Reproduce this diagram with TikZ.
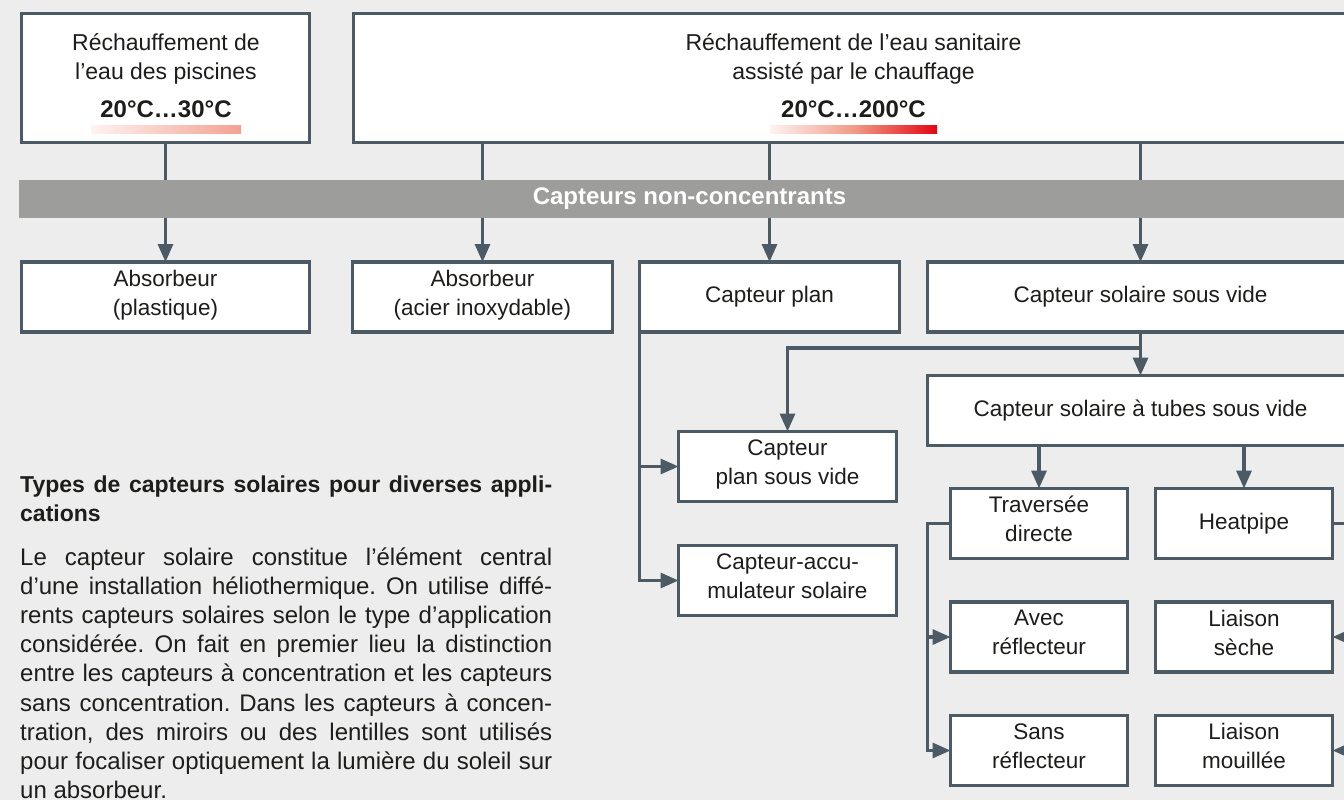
\documentclass[tikz,border=0pt]{standalone}
\usepackage{fontspec}
\setmainfont{Liberation Sans}
\usetikzlibrary{arrows.meta,calc}
\definecolor{bg}{HTML}{EDEDED}
\definecolor{edge}{HTML}{4B5A64}
\definecolor{bandc}{HTML}{9D9D9C}
\definecolor{ink}{HTML}{1D1D1B}
\definecolor{salmon}{HTML}{F4A193}
\definecolor{pale}{HTML}{FEF3F0}
\definecolor{redend}{HTML}{E30613}
\definecolor{redmid}{HTML}{F19B87}
\newcommand\bstrut{\rule[-8.7pt]{0pt}{29pt}}
\frenchspacing
\begin{document}
\begin{tikzpicture}[x=1pt,y=-1pt,
  box/.style={draw=edge, line width=3.2pt, fill=white, inner sep=0pt, outer sep=0pt,
    align=center, text=ink, font=\fontsize{22.5}{29}\selectfont,
    execute at begin node=\bstrut, execute at end node=\bstrut},
  conn/.style={draw=edge, line width=3.2pt, -{Triangle[width=15pt,length=18pt]}},
  ttext/.style={anchor=base, inner sep=0pt, text=ink, font=\fontsize{23}{29}\selectfont},
  tbold/.style={anchor=base, inner sep=0pt, text=ink, font=\bfseries\fontsize{24}{29}\selectfont},
  para/.style={anchor=base west, inner sep=0pt, text=ink, font=\fontsize{24}{29}\selectfont},
  parah/.style={anchor=base west, inner sep=0pt, text=ink, font=\bfseries\fontsize{23}{29}\selectfont},
  band/.style={fill=bandc, inner sep=0pt, outer sep=0pt, text=white, font=\bfseries\fontsize{24}{29}\selectfont}
]
\useasboundingbox (0,0) rectangle (1344,800);
\clip (0,0) rectangle (1344,800);
\fill[bg] (0,0) rectangle (1344,800);

\node[box, minimum width=288pt, minimum height=129pt] (tl) at (165.5,78) {};
\node[box, minimum width=999pt, minimum height=129pt] (tr) at (853,78) {};

\node[box, minimum width=288pt, minimum height=70pt] (abs1) at (165.5,297) {Absorbeur\\(plastique)};
\node[box, minimum width=260pt, minimum height=70pt] (abs2) at (482.5,297) {Absorbeur\\(acier inoxydable)};
\node[box, minimum width=260pt, minimum height=70pt] (cplan) at (769.5,297) {Capteur plan};
\node[box, minimum width=426pt, minimum height=70pt] (cssv) at (1140.5,297) {Capteur solaire sous vide};
\node[box, minimum width=426pt, minimum height=70pt] (tubes) at (1140.5,410.5) {Capteur solaire à tubes sous vide};
\node[box, minimum width=218pt, minimum height=70pt] (cpsv) at (787.5,466.5) {Capteur\\plan sous vide};
\node[box, minimum width=218pt, minimum height=70pt] (accu) at (787.5,580.5) {Capteur-accu-\\mulateur solaire};
\node[box, minimum width=177pt, minimum height=70pt] (trav) at (1039,523.5) {Traversée\\directe};
\node[box, minimum width=177pt, minimum height=70pt] (heat) at (1244,523.5) {Heatpipe};
\node[box, minimum width=177pt, minimum height=70pt] (avec) at (1039,637) {Avec\\réflecteur};
\node[box, minimum width=177pt, minimum height=70pt] (lsec) at (1244,637) {Liaison\\sèche};
\node[box, minimum width=177pt, minimum height=70pt] (sans) at (1039,750.5) {Sans\\réflecteur};
\node[box, minimum width=177pt, minimum height=70pt] (lmou) at (1244,750.5) {Liaison\\mouillée};

\draw[conn] (tl.south) -- (abs1.north);
\draw[conn] (tr.south -| abs2.north) -- (abs2.north);
\draw[conn] (tr.south -| cplan.north) -- (cplan.north);
\draw[conn] (tr.south -| cssv.north) -- (cssv.north);
\draw[conn] (cssv.south) -- (tubes.north);
\coordinate (j1) at (1140.5,348);
\draw[conn] (j1) -| (cpsv.north);
\draw[conn] (tubes.south -| trav.north) -- (trav.north);
\draw[conn] (tubes.south -| heat.north) -- (heat.north);
\coordinate (j2) at ([xshift=-23pt]trav.west);
\draw[conn] (trav.west) -- (j2) |- (sans.west);
\draw[conn] (j2 |- avec.west) -- (avec.west);
\coordinate (j3) at ([xshift=25pt]heat.east);
\draw[conn] (heat.east) -- (j3) |- (lmou.east);
\draw[conn] (j3 |- lsec.east) -- (lsec.east);
\draw[conn] (cplan.south west) |- (accu.west);
\draw[conn] (cplan.south west |- cpsv.west) -- (cpsv.west);

\node[band, minimum width=1341pt, minimum height=38pt] (bnd) at (689.5,199) {Capteurs non-concentrants};

\node[ttext] (t1a) at (166,51) {Réchauffement de};
\node[ttext] (t1b) at (166,80) {l’eau des piscines};
\node[tbold] (t1c) at (166,117) {20°C…30°C};
\shade[left color=pale, right color=salmon] (91,125) rectangle (241,133);
\node[ttext] (t2a) at (853.5,51) {Réchauffement de l’eau sanitaire};
\node[ttext] (t2b) at (853.5,80) {assisté par le chauffage};
\node[tbold] (t2c) at (853.5,117) {20°C…200°C};
\shade[left color=pale, right color=redend, middle color=redmid] (770,125) rectangle (937,133);

\node[parah] (h1) at (20,492.5) {\makebox[532pt][s]{Types de capteurs solaires pour diverses appli-}};
\node[parah] (h2) at (20,521.5) {cations};
\node[para] (p1) at (20,565) {\makebox[532pt][s]{Le capteur solaire constitue l’élément central}};
\node[para] (p2) at (20,594.2) {\makebox[532pt][s]{d’une installation héliothermique. On utilise diffé-}};
\node[para] (p3) at (20,623.4) {\makebox[532pt][s]{rents capteurs solaires selon le type d’application}};
\node[para] (p4) at (20,652.6) {\makebox[532pt][s]{considérée. On fait en premier lieu la distinction}};
\node[para] (p5) at (20,681.8) {\makebox[532pt][s]{entre les capteurs à concentration et les capteurs}};
\node[para] (p6) at (20,711) {\makebox[532pt][s]{sans concentration. Dans les capteurs à concen-}};
\node[para] (p7) at (20,740.2) {\makebox[532pt][s]{tration, des miroirs ou des lentilles sont utilisés}};
\node[para] (p8) at (20,769.4) {\makebox[532pt][s]{pour focaliser optiquement la lumière du soleil sur}};
\node[para] (p9) at (20,798.6) {un absorbeur.};
\end{tikzpicture}
\end{document}
